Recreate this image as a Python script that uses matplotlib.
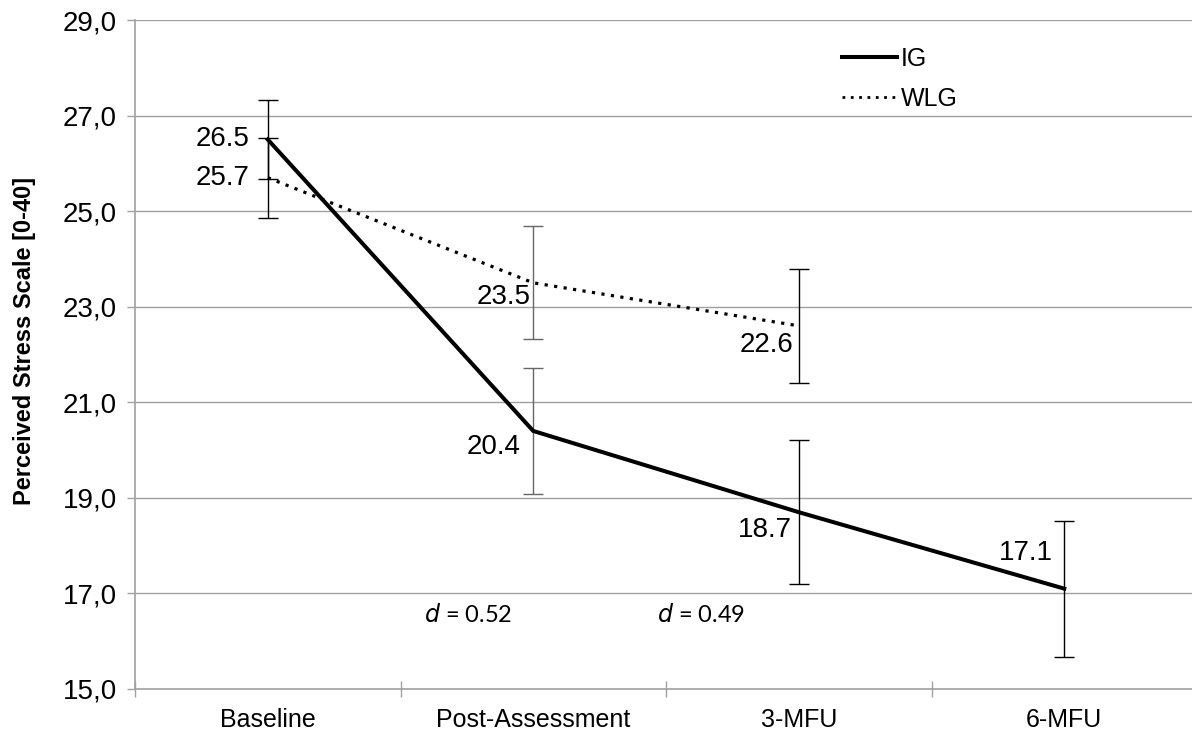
import matplotlib
matplotlib.use("Agg")
import matplotlib.pyplot as plt
from matplotlib.lines import Line2D

# Perceived Stress Scale means and error margins per assessment point
categories = ["Baseline", "Post-Assessment", "3-MFU", "6-MFU"]
ig_values = [26.5, 20.4, 18.7, 17.1]
ig_errors = [0.83, 1.32, 1.51, 1.42]
wlg_values = [25.7, 23.5, 22.6]
wlg_errors = [0.84, 1.18, 1.19]
y_ticks = [15, 17, 19, 21, 23, 25, 27, 29]
y_tick_labels = ["15,0", "17,0", "19,0", "21,0", "23,0", "25,0", "27,0", "29,0"]
effect_sizes = ["0.52", "0.49"]

plt.rcParams["font.family"] = ["Liberation Sans", "DejaVu Sans"]

fig = plt.figure(figsize=(11.92, 7.33), dpi=100)
ax = fig.add_axes([135 / 1192, 44 / 733, 1062 / 1192, 669 / 733])

grid_col = "#a0a0a0"
ax.set_ylim(15, 29)
ax.set_xlim(-0.5, len(categories) - 0.5)
for y in y_ticks[1:]:
    ax.axhline(y, color=grid_col, lw=1.0, zorder=0)

for s in ["top", "right"]:
    ax.spines[s].set_visible(False)
for s in ["left", "bottom"]:
    ax.spines[s].set_color(grid_col)
    ax.spines[s].set_linewidth(1.2)

ax.set_yticks(y_ticks)
ax.set_yticklabels(y_tick_labels)
ax.tick_params(axis="y", direction="out", length=6, width=1, color=grid_col,
               labelsize=20, pad=7)

# category boundaries carry the tick marks, centres carry the labels
n = len(categories)
ax.set_xticks([i - 0.5 for i in range(n)])
ax.set_xticklabels([])
ax.set_xticks(range(n), minor=True)
ax.set_xticklabels(categories, minor=True)
ax.tick_params(axis="x", which="major", direction="inout", length=11, width=1,
               color=grid_col)
ax.tick_params(axis="x", which="minor", length=0, labelsize=18, pad=14)

ax.set_ylabel("Perceived Stress Scale [0-40]", fontsize=17, fontweight="bold")
ax.yaxis.set_label_coords(-0.093, 0.52)

x_ig = list(range(len(ig_values)))
x_wlg = list(range(len(wlg_values)))

ax.plot(x_ig, ig_values, color="black", lw=2.9, solid_joinstyle="miter",
        zorder=3, label="IG")
ax.plot(x_wlg, wlg_values, color="black", lw=2.3, linestyle=(0, (1, 2)),
        zorder=3, label="WLG")

def bar_color(i):
    return "#666666" if i == 1 else "black"

for i, (v, e) in enumerate(zip(ig_values, ig_errors)):
    ax.errorbar(i, v, yerr=e, fmt="none", ecolor=bar_color(i), elinewidth=1.0,
                capsize=7, capthick=1.0, zorder=2)
for i, (v, e) in enumerate(zip(wlg_values, wlg_errors)):
    ax.errorbar(i, v, yerr=e, fmt="none", ecolor=bar_color(i), elinewidth=1.0,
                capsize=7, capthick=1.0, zorder=2)

# value labels (offsets in points)
ig_offsets = [(-13, 0), (-9, -11.5), (-5, -13), (-8, 26)]
wlg_offsets = [(-13, 0), (-2, -10), (-4, -14)]
for i, (v, off) in enumerate(zip(ig_values, ig_offsets)):
    ax.annotate(f"{v:.1f}", (i, v), xytext=off, textcoords="offset points",
                ha="right", va="center", fontsize=20, zorder=4)
for i, (v, off) in enumerate(zip(wlg_values, wlg_offsets)):
    ax.annotate(f"{v:.1f}", (i, v), xytext=off, textcoords="offset points",
                ha="right", va="center", fontsize=20, zorder=4)

# effect sizes between groups
d_positions = [0.755, 1.63]
for xp, d in zip(d_positions, effect_sizes):
    ax.text(xp, 16.56, "$d$ = " + d, ha="center", va="center", fontsize=17,
            family=["Lato", "DejaVu Sans"])

handles = [Line2D([], [], color="black", lw=2.9),
           Line2D([], [], color="black", lw=2.0, linestyle=(0, (1, 2)))]
leg = ax.legend(handles, ["IG", "WLG"], loc="upper left",
                bbox_to_anchor=(0.666, 0.96), frameon=False, fontsize=18,
                handlelength=2.2, handletextpad=0.15, labelspacing=0.65,
                borderpad=0, borderaxespad=0)

fig.savefig("out.png", dpi=100)
